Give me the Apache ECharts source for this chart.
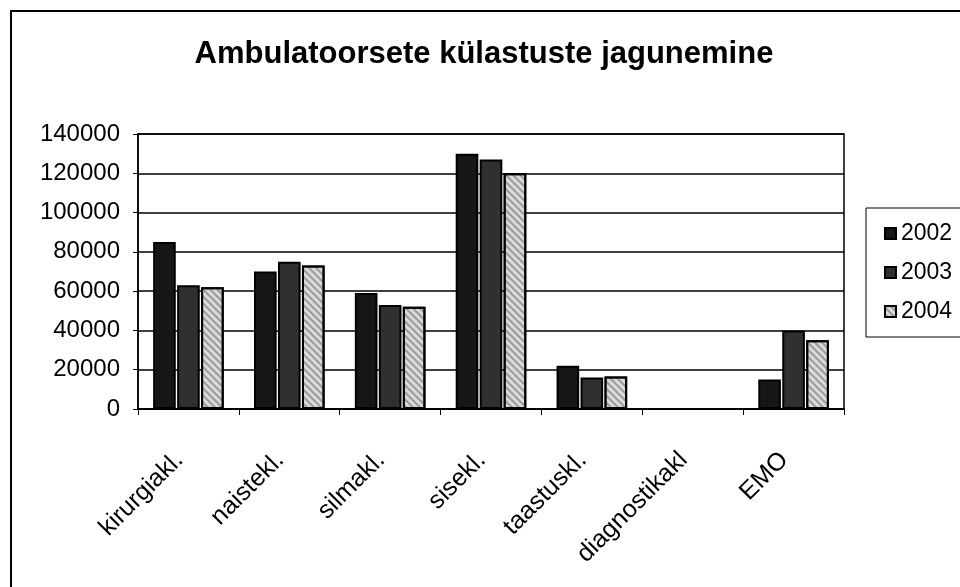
<!DOCTYPE html>
<html>
<head>
<meta charset="utf-8">
<script src="https://cdn.jsdelivr.net/npm/echarts@6/dist/echarts.min.js"></script>
<style>
  html, body { margin: 0; padding: 0; background: #fff; }
  #chart { width: 960px; height: 587px; }
</style>
</head>
<body>
<div id="chart"></div>
<script>
// andmed
const categories = ['kirurgiakl.', 'naistekl.', 'silmakl.', 'sisekl.', 'taastuskl.', 'diagnostikakl', 'EMO'];
const years = ['2002', '2003', '2004'];
const visits2002 = [85000, 70000, 59000, 130000, 22000, 0, 15000];
const visits2003 = [63000, 75000, 53000, 127000, 16000, 0, 40000];
const visits2004 = [62000, 73000, 52000, 120000, 16500, 0, 35000];
const yTicks = [0, 20000, 40000, 60000, 80000, 100000, 120000, 140000];

const font = "'Liberation Sans', Arial, sans-serif";
const fills = ['#161616', '#303030', '#dadada'];

const chart = echarts.init(document.getElementById('chart'));

const option = {
  backgroundColor: '#fff',
  animation: false,
  textStyle: { fontFamily: font, color: '#000' },
  title: {
    text: 'Ambulatoorsete külastuste jagunemine',
    left: 479,
    textAlign: 'center',
    top: 34,
    textStyle: { fontFamily: font, fontSize: 31, fontWeight: 'bold', color: '#000' }
  },
  graphic: [{
    type: 'rect',
    shape: { x: 11, y: 11, width: 1000, height: 620 },
    style: { fill: 'none', stroke: '#000', lineWidth: 2 }
  }],
  legend: {
    orient: 'vertical',
    left: 866,
    top: 208,
    padding: [14, 12, 14, 18],
    itemGap: 16,
    itemWidth: 11,
    itemHeight: 11,
    icon: 'rect',
    borderColor: '#000',
    borderWidth: 1,
    textStyle: { fontFamily: font, fontSize: 23, color: '#000', padding: [0, 0, 0, 0] },
    data: years
  },
  grid: {
    left: 138,
    right: 116,
    top: 134,
    bottom: 178,
    show: true,
    borderColor: '#000',
    borderWidth: 1.5
  },
  xAxis: {
    type: 'category',
    data: categories,
    axisLine: { lineStyle: { color: '#000', width: 2 } },
    axisTick: { show: true, interval: 0, length: 6, lineStyle: { color: '#000' } },
    axisLabel: {
      interval: 0,
      rotate: 45,
      margin: 38,
      padding: [0, 13, 0, 0],
      fontSize: 25,
      fontFamily: font,
      color: '#000'
    }
  },
  yAxis: {
    type: 'value',
    min: yTicks[0],
    max: yTicks[yTicks.length - 1],
    interval: yTicks[1] - yTicks[0],
    axisLine: { show: true, lineStyle: { color: '#000', width: 1.5 } },
    axisTick: { show: true, length: 5, lineStyle: { color: '#000' } },
    axisLabel: {
      fontSize: 24,
      fontFamily: font,
      color: '#000',
      margin: 18,
      formatter: v => String(v)
    },
    splitLine: { lineStyle: { color: '#000', width: 1.5 } }
  },
  series: [
    {
      name: years[0],
      type: 'bar',
      data: visits2002,
      barGap: '6%',
      barCategoryGap: '30%',
      itemStyle: { color: fills[0], borderColor: '#000', borderWidth: 2 }
    },
    {
      name: years[1],
      type: 'bar',
      data: visits2003,
      barGap: '6%',
      barCategoryGap: '30%',
      itemStyle: { color: fills[1], borderColor: '#000', borderWidth: 2 }
    },
    {
      name: years[2],
      type: 'bar',
      data: visits2004,
      barGap: '6%',
      barCategoryGap: '30%',
      itemStyle: {
        color: fills[2],
        borderColor: '#000',
        borderWidth: 2,
        decal: {
          symbol: 'rect',
          symbolSize: 1,
          color: 'rgba(90,90,90,0.5)',
          dashArrayX: [1, 0],
          dashArrayY: [2, 3],
          rotation: Math.PI / 4
        }
      }
    }
  ]
};

chart.setOption(option);
</script>
</body>
</html>
